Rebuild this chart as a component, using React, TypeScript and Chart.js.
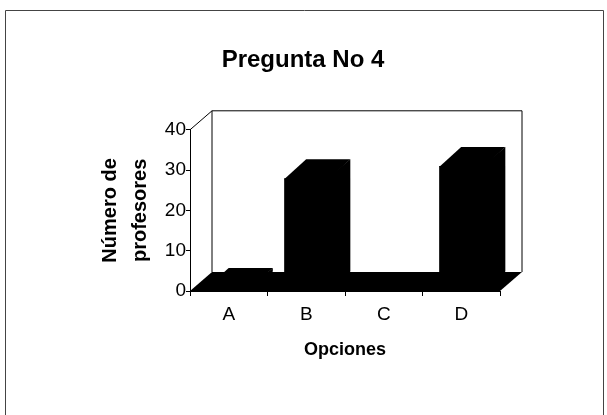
import React, { useEffect, useRef } from "react";
import { Chart, registerables } from "chart.js";

Chart.register(...registerables);

const categories = ["A", "B", "C", "D"];
const values = [1, 28, 0, 31];
const yTickValues = [0, 10, 20, 30, 40];
const chartTitle = "Pregunta No 4";
const yAxisTitle = ["Número de", "profesores"];
const xAxisTitle = "Opciones";

const FONT = "'Liberation Sans', Arial, Helvetica, sans-serif";
const DX = 22;
const DY = 19;

const depthPlugin = {
  id: "depth3d",
  beforeDraw(chart: any) {
    const ctx = chart.ctx;
    ctx.save();
    ctx.fillStyle = "#ffffff";
    ctx.fillRect(0, 0, chart.width, chart.height);
    ctx.strokeStyle = "#444";
    ctx.lineWidth = 1;
    ctx.beginPath();
    ctx.moveTo(5.5, chart.height + 5);
    ctx.lineTo(5.5, 10.5);
    ctx.lineTo(603.5, 10.5);
    ctx.lineTo(603.5, chart.height + 5);
    ctx.stroke();
    ctx.restore();
  },
  beforeDatasetsDraw(chart: any) {
    const { ctx, chartArea: a } = chart;
    ctx.save();
    ctx.strokeStyle = "#000";
    ctx.lineWidth = 1;
    ctx.beginPath();
    ctx.moveTo(a.left, a.top);
    ctx.lineTo(a.left + DX, a.top - DY);
    ctx.lineTo(a.right + DX, a.top - DY);
    ctx.lineTo(a.right + DX, a.bottom - DY);
    ctx.moveTo(a.left + DX, a.top - DY);
    ctx.lineTo(a.left + DX, a.bottom - DY);
    ctx.stroke();
    ctx.fillStyle = "#000";
    ctx.beginPath();
    ctx.moveTo(a.left, a.bottom);
    ctx.lineTo(a.right, a.bottom);
    ctx.lineTo(a.right + DX, a.bottom - DY);
    ctx.lineTo(a.left + DX, a.bottom - DY);
    ctx.closePath();
    ctx.fill();
    ctx.restore();
  },
  afterDatasetsDraw(chart: any) {
    const ctx = chart.ctx;
    const meta = chart.getDatasetMeta(0);
    ctx.save();
    ctx.fillStyle = "#000";
    ctx.strokeStyle = "#000";
    ctx.lineWidth = 1;
    meta.data.forEach((bar: any) => {
      const { x, y, base, width } = bar.getProps(["x", "y", "base", "width"], true);
      if (Math.abs(base - y) < 0.5) return;
      const l = x - width / 2;
      const r = x + width / 2;
      ctx.beginPath();
      ctx.moveTo(l, y + 1);
      ctx.lineTo(r, y + 1);
      ctx.lineTo(r + DX, y - DY);
      ctx.lineTo(l + DX, y - DY);
      ctx.closePath();
      ctx.fill();
      ctx.beginPath();
      ctx.moveTo(r - 1, y);
      ctx.lineTo(r + DX, y - DY);
      ctx.lineTo(r + DX, base - DY);
      ctx.lineTo(r - 1, base);
      ctx.closePath();
      ctx.fill();
    });
    ctx.restore();
  },
};

export default function App() {
  const canvasRef = useRef<HTMLCanvasElement | null>(null);

  useEffect(() => {
    if (!canvasRef.current) return;
    Chart.defaults.font.family = FONT;
    const chart = new Chart(canvasRef.current, {
      type: "bar",
      data: {
        labels: categories,
        datasets: [
          {
            data: values,
            backgroundColor: "#000",
            borderWidth: 0,
            barPercentage: 0.57,
            categoryPercentage: 1,
          },
        ],
      },
      plugins: [depthPlugin],
      options: {
        responsive: false,
        animation: false,
        devicePixelRatio: 1,
        layout: { padding: { left: 80, right: 81, top: 0, bottom: 0 } },
        plugins: {
          legend: { display: false },
          tooltip: { enabled: false },
          title: {
            display: true,
            text: chartTitle,
            color: "#000",
            font: { family: FONT, size: 24, weight: "bold" },
            padding: { top: 46, bottom: 55 },
          },
        },
        scales: {
          x: {
            afterFit: (s: any) => {
              s.height = 124;
            },
            grid: {
              display: true,
              drawOnChartArea: false,
              drawTicks: true,
              tickLength: 5,
              color: "#000",
            },
            border: { display: true, color: "#000" },
            ticks: {
              color: "#000",
              font: { family: FONT, size: 19 },
              padding: 7,
              maxRotation: 0,
              autoSkip: false,
            },
            title: {
              display: true,
              text: xAxisTitle,
              color: "#000",
              font: { family: FONT, size: 18, weight: "bold" },
              padding: { top: 4, bottom: 54 },
            },
          },
          y: {
            min: yTickValues[0],
            max: yTickValues[yTickValues.length - 1],
            afterFit: (s: any) => {
              s.width = 110;
            },
            afterBuildTicks: (s: any) => {
              s.ticks = yTickValues.map((v) => ({ value: v }));
            },
            grid: {
              display: true,
              drawOnChartArea: false,
              drawTicks: true,
              tickLength: 4,
              color: "#000",
            },
            border: { display: true, color: "#000" },
            ticks: {
              color: "#000",
              font: { family: FONT, size: 19 },
              padding: 0,
            },
            title: {
              display: true,
              text: yAxisTitle,
              color: "#000",
              font: { family: FONT, size: 20, weight: "bold", lineHeight: 1.5 },
              padding: { top: 15, bottom: 0 },
            },
          },
          yRight: {
            position: "right",
            display: true,
            min: 0,
            max: 40,
            afterFit: (s: any) => {
              s.width = 26;
            },
            grid: { display: false, drawTicks: false },
            border: { display: false },
            ticks: { display: false },
          },
        },
      },
    } as any);
    return () => chart.destroy();
  }, []);

  return (
    <div style={{ position: "fixed", left: 0, top: 0, width: 607, height: 415 }}>
      <canvas ref={canvasRef} width={607} height={415} style={{ display: "block" }} />
    </div>
  );
}
